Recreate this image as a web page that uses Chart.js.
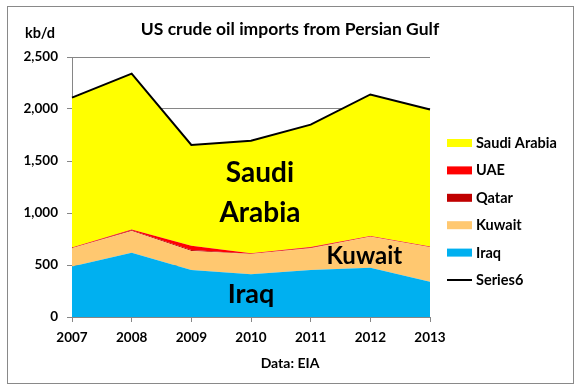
<!DOCTYPE html>
<html>
<head>
<meta charset="utf-8">
<script src="https://cdn.jsdelivr.net/npm/chart.js@4.4.1/dist/chart.umd.min.js"></script>
<style>
    html, body { margin: 0; padding: 0; background: #fff; }
    #wrap { width: 582px; height: 392px; }
</style>
</head>
<body>
<div id="wrap"><canvas id="oilChart" width="582" height="392"></canvas></div>
<script>
// DATA (kb/d)
const years  = ['2007', '2008', '2009', '2010', '2011', '2012', '2013'];
const iraq   = [485, 618, 452, 410, 452, 474, 340];
const kuwait = [175, 209, 183, 196, 208, 298, 330];
const qatar  = [3, 6, 10, 3, 5, 3, 3];
const uae    = [5, 9, 40, 5, 8, 5, 5];
const saudi  = [1442, 1498, 970, 1081, 1177, 1360, 1317];
const series6 = [2110, 2340, 1655, 1695, 1850, 2140, 1995];
const yTicks = [0, 500, 1000, 1500, 2000, 2500];

const titleText = 'US crude oil imports from Persian Gulf';
const unitText = 'kb/d';
const sourceText = 'Data: EIA';

const FONT = 'Lato, "Liberation Sans", sans-serif';
const GRID = '#868686';

// big labels sitting inside the areas: [text, x index, y value, size]
const areaLabels = [
    ['Saudi', 3.15, 1300, 28],
    ['Arabia', 3.15, 915, 28],
    ['Iraq', 3.0, 135, 27],
    ['Kuwait', 4.9, 510, 24]
];

// legend order as in the original
const legendOrder = [4, 3, 2, 1, 0, 5];

const decor = {
    id: 'decor',
    beforeDraw(chart) {
        const ctx = chart.ctx;
        ctx.save();
        ctx.fillStyle = '#fff';
        ctx.fillRect(0, 0, chart.width, chart.height);
        ctx.restore();
    },
    afterDraw(chart) {
        const { ctx, scales: { x, y } } = chart;
        ctx.save();
        // outer frame
        ctx.strokeStyle = '#898989';
        ctx.lineWidth = 1;
        ctx.strokeRect(7.5, 6.5, 566, 377);

        ctx.fillStyle = '#000';
        ctx.textBaseline = 'alphabetic';
        ctx.textAlign = 'center';
        ctx.font = 'bold 17.5px ' + FONT;
        ctx.fillText(titleText, 290, 35);
        ctx.font = 'bold 14.5px ' + FONT;
        ctx.fillText(unitText, 40, 38);
        ctx.font = 'bold 14px ' + FONT;
        ctx.fillText(sourceText, 290, 368);

        areaLabels.forEach(([txt, xi, yv, size]) => {
            ctx.font = 'bold ' + size + 'px ' + FONT;
            ctx.fillText(txt, x.getPixelForValue(xi), y.getPixelForValue(yv));
        });

        // legend
        ctx.textAlign = 'left';
        ctx.font = 'bold 14.5px ' + FONT;
        legendOrder.forEach((dsIdx, i) => {
            const ds = chart.data.datasets[dsIdx];
            const base = 148 + i * 27.4;
            if (ds.type === 'line' && !ds.fill) {
                ctx.strokeStyle = ds.borderColor;
                ctx.lineWidth = 2;
                ctx.beginPath();
                ctx.moveTo(447, base - 5);
                ctx.lineTo(472, base - 5);
                ctx.stroke();
            } else {
                ctx.fillStyle = ds.backgroundColor;
                ctx.fillRect(447, base - 9, 25, 8);
            }
            ctx.fillStyle = '#000';
            ctx.fillText(ds.label, 476, base);
        });
        ctx.restore();
    }
};

function area(label, data, color, fill) {
    return {
        label: label, data: data, fill: fill,
        backgroundColor: color, borderColor: color, borderWidth: 0,
        pointRadius: 0, tension: 0, stack: 'gulf'
    };
}

new Chart(document.getElementById('oilChart'), {
    type: 'line',
    data: {
        labels: years,
        datasets: [
            area('Iraq', iraq, '#00B0F0', 'origin'),
            area('Kuwait', kuwait, '#FFC870', '-1'),
            area('Qatar', qatar, '#C00000', '-1'),
            area('UAE', uae, '#FF0000', '-1'),
            area('Saudi Arabia', saudi, '#FFFF00', '-1'),
            {
                type: 'line', label: 'Series6', data: series6, fill: false,
                borderColor: '#000', borderWidth: 2, pointRadius: 0, tension: 0,
                stack: 'total', order: -1
            }
        ]
    },
    options: {
        responsive: false,
        animation: false,
        layout: { padding: { left: 0, top: 57, right: 152, bottom: 40 } },
        plugins: { legend: { display: false }, tooltip: { enabled: false } },
        scales: {
            x: {
                offset: false,
                grid: { drawOnChartArea: false, tickLength: 5, color: GRID },
                border: { color: GRID },
                ticks: { color: '#000', font: { family: FONT, size: 13.5, weight: 'bold' }, padding: 8, maxRotation: 0 },
                afterFit: s => { s.height = 35; }
            },
            y: {
                stacked: true,
                min: 0, max: 2500,
                afterBuildTicks: s => { s.ticks = yTicks.map(v => ({ value: v })); },
                grid: { tickLength: 5, color: GRID },
                border: { color: GRID },
                ticks: {
                    color: '#000', padding: 9,
                    font: { family: FONT, size: 13.5, weight: 'bold' },
                    callback: v => v.toLocaleString('en-US')
                },
                afterFit: s => { s.width = 72; }
            }
        }
    },
    plugins: [decor]
});
</script>
</body>
</html>
